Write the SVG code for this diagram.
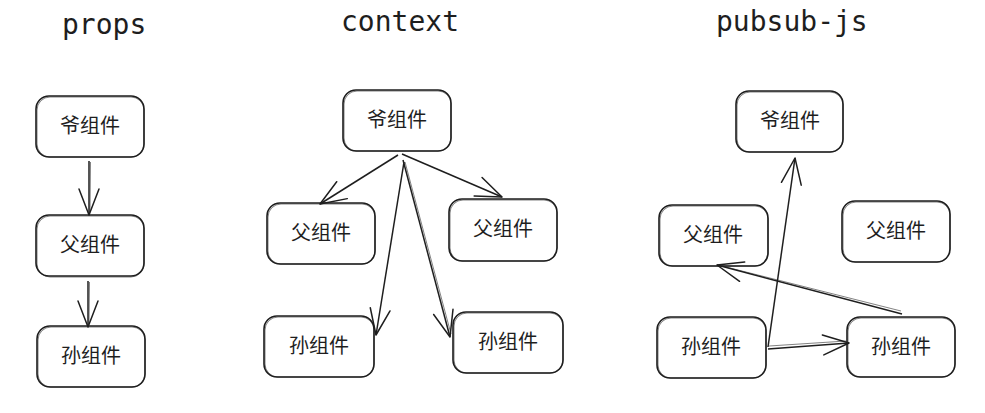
<svg xmlns="http://www.w3.org/2000/svg" width="985" height="413" viewBox="0 0 985 413">
<style>
.bg{fill:#ffffff}
.box{fill:#ffffff;stroke:#1e1e1e;stroke-width:1.6}
.box2{fill:none;stroke:#1e1e1e;stroke-width:0.8;opacity:0.7}
.lbl{font-family:"Noto Sans CJK SC","Noto Sans",sans-serif;font-size:20px;fill:#1e1e1e;text-anchor:middle}
.title{font-family:"DejaVu Sans Mono","Liberation Mono",monospace;font-size:28px;fill:#1e1e1e;text-anchor:start}
.conn{fill:none;stroke:#1e1e1e;stroke-width:1.5;marker-end:url(#ah)}
.conn2{fill:none;stroke:#1e1e1e;stroke-width:0.8;opacity:0.7}
</style>
<defs>
<marker id="ah" markerUnits="userSpaceOnUse" viewBox="-30 -14 32 28" refX="0" refY="0" markerWidth="32" markerHeight="28" orient="auto" overflow="visible">
<path d="M-26,-10 L0,0 L-26,10" fill="none" stroke="#1e1e1e" stroke-width="1.5" stroke-linecap="round" stroke-linejoin="round"/>
</marker>
</defs>
<rect class="bg" x="0" y="0" width="985" height="413"/>

<g id="titles">
<text class="title" x="62" y="34">props</text>
<text class="title" x="341" y="31">context</text>
<text class="title" x="716" y="31">pubsub-js</text>
</g>

<!-- props column -->
<g id="props-grandpa">
<rect class="box" x="36" y="96" width="108" height="61" rx="13"/>
<rect class="box2" x="37" y="97" width="107" height="60" rx="13"/>
<text class="lbl" x="90" y="133">爷组件</text>
</g>
<g id="props-father">
<rect class="box" x="36" y="215" width="108" height="61" rx="13"/>
<rect class="box2" x="37" y="216" width="107" height="61" rx="13"/>
<text class="lbl" x="90" y="252">父组件</text>
</g>
<g id="props-son">
<rect class="box" x="37" y="326" width="108" height="61" rx="13"/>
<rect class="box2" x="38" y="327" width="107" height="60" rx="13"/>
<text class="lbl" x="91" y="363">孙组件</text>
</g>

<!-- context column -->
<g id="ctx-grandpa">
<rect class="box" x="343" y="90" width="108" height="61" rx="13"/>
<rect class="box2" x="344" y="91" width="107" height="60" rx="13"/>
<text class="lbl" x="397" y="127">爷组件</text>
</g>
<g id="ctx-father-left">
<rect class="box" x="267" y="203" width="108" height="61" rx="13"/>
<rect class="box2" x="268" y="204" width="107" height="60" rx="13"/>
<text class="lbl" x="321" y="240">父组件</text>
</g>
<g id="ctx-father-right">
<rect class="box" x="449" y="199" width="108" height="62" rx="13"/>
<rect class="box2" x="450" y="200" width="107" height="61" rx="13"/>
<text class="lbl" x="503" y="236">父组件</text>
</g>
<g id="ctx-son-left">
<rect class="box" x="264" y="316" width="110" height="61" rx="13"/>
<rect class="box2" x="265" y="317" width="109" height="60" rx="13"/>
<text class="lbl" x="319" y="353">孙组件</text>
</g>
<g id="ctx-son-right">
<rect class="box" x="453" y="312" width="110" height="61" rx="13"/>
<rect class="box2" x="454" y="313" width="109" height="60" rx="13"/>
<text class="lbl" x="508" y="349">孙组件</text>
</g>

<!-- pubsub column -->
<g id="ps-grandpa">
<rect class="box" x="736" y="91" width="107" height="61" rx="13"/>
<rect class="box2" x="737" y="92" width="106" height="60" rx="13"/>
<text class="lbl" x="790" y="128">爷组件</text>
</g>
<g id="ps-father-left">
<rect class="box" x="659" y="205" width="109" height="61" rx="13"/>
<rect class="box2" x="660" y="206" width="108" height="60" rx="13"/>
<text class="lbl" x="713" y="242">父组件</text>
</g>
<g id="ps-father-right">
<rect class="box" x="842" y="201" width="108" height="61" rx="13"/>
<rect class="box2" x="843" y="202" width="107" height="60" rx="13"/>
<text class="lbl" x="896" y="238">父组件</text>
</g>
<g id="ps-son-left">
<rect class="box" x="657" y="317" width="109" height="61" rx="13"/>
<rect class="box2" x="658" y="318" width="108" height="60" rx="13"/>
<text class="lbl" x="711" y="354">孙组件</text>
</g>
<g id="ps-son-right">
<rect class="box" x="847" y="317" width="108" height="60" rx="13"/>
<rect class="box2" x="848" y="318" width="107" height="59" rx="13"/>
<text class="lbl" x="901" y="354">孙组件</text>
</g>

<g id="connectors">
<!-- props -->
<path class="conn" d="M89,161 L89,215"/>
<path class="conn2" d="M90.5,162 L90,212"/>
<path class="conn" d="M88,281 L88,327"/>
<path class="conn2" d="M89.5,282 L89,324"/>
<!-- context -->
<path class="conn" d="M398,155 L320,204"/>
<path class="conn" d="M402,154 L502,197"/>
<path class="conn" d="M404,162 L376,335"/>
<path class="conn" d="M403,160 L450,337"/>
<path class="conn2" d="M405,162 L451,334"/>
<!-- pubsub -->
<path class="conn" d="M768,347 L795,158"/>
<path class="conn" d="M768,349 L849,343"/>
<path class="conn2" d="M769,346 L846,341"/>
<path class="conn" d="M902,314 L717,265"/>
<path class="conn2" d="M901,311 L722,266"/>
</g>
</svg>
